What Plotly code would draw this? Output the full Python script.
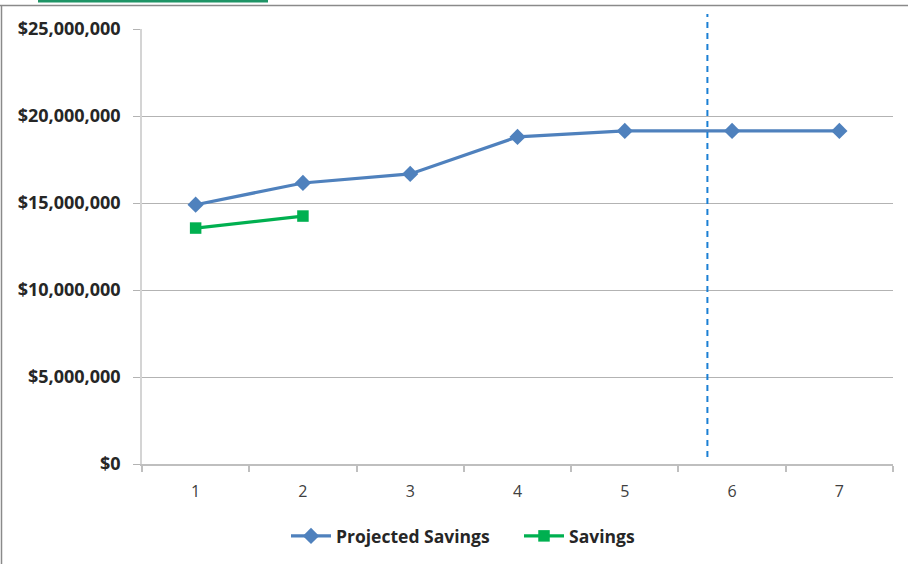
import plotly.graph_objects as go

# Period numbers on the category axis
periods = [1, 2, 3, 4, 5, 6, 7]
tick_labels = ["1", "2", "3", "4", "5", "6", "7"]

# Cumulative savings (USD)
projected_savings = [14_900_000, 16_150_000, 16_670_000, 18_800_000, 19_140_000, 19_140_000, 19_140_000]
savings = [13_560_000, 14_250_000]

# Position of the "current point" marker along the period axis
current_marker_x = 5.77

W, H = 908, 564
L, R, T, B = 142, 15, 29, 100
PW, PH = W - L - R, H - T - B


def px_x(p):
    return (p - L) / PW


def px_y(p):
    return (H - B - p) / PH


FONT = "Open Sans"
TEXT = "#404040"

fig = go.Figure()
fig.add_trace(go.Scatter(
    x=periods, y=projected_savings, name="Projected Savings",
    mode="lines+markers",
    line=dict(color="#4f81bd", width=3.2),
    marker=dict(symbol="diamond", size=12.5, color="#4f81bd"),
))
fig.add_trace(go.Scatter(
    x=periods[:len(savings)], y=savings, name="Savings",
    mode="lines+markers",
    line=dict(color="#00b050", width=3.2),
    marker=dict(symbol="square", size=11.5, color="#00b050"),
))

shapes = [
    # vertical dashed marker
    dict(type="line", xref="x", yref="paper",
         x0=current_marker_x, x1=current_marker_x, y0=px_y(457), y1=px_y(14),
         line=dict(color="#1a7fd4", width=2, dash="6px,5px")),
    # outer frame (top and left edges)
    dict(type="line", xref="paper", yref="paper",
         x0=px_x(0), x1=px_x(W), y0=px_y(5.5), y1=px_y(5.5),
         line=dict(color="#8a8a8a", width=1.5)),
    dict(type="line", xref="paper", yref="paper",
         x0=px_x(1.5), x1=px_x(1.5), y0=px_y(5), y1=px_y(H),
         line=dict(color="#8a8a8a", width=1.5)),
    # green tab at the top edge
    dict(type="rect", xref="paper", yref="paper",
         x0=px_x(38), x1=px_x(268), y0=px_y(0), y1=px_y(2.5),
         fillcolor="#1e9466", line=dict(width=0)),
]

fig.update_layout(
    width=W, height=H,
    margin=dict(l=L, r=R, t=T, b=B, autoexpand=False),
    paper_bgcolor="white", plot_bgcolor="white",
    font=dict(family=FONT, color=TEXT),
    showlegend=True,
    legend=dict(
        orientation="h", x=px_x(286), xanchor="left",
        y=px_y(536), yanchor="middle",
        font=dict(family=FONT, size=17.5, color="#262626", weight=700),
        itemwidth=40, tracegroupgap=0, entrywidth=178,
    ),
    shapes=shapes,
)

fig.update_xaxes(
    range=[0.5, 7.5], tickvals=periods, ticktext=tick_labels,
    showgrid=False, zeroline=False,
    showline=True, linecolor="#bfbfbf", linewidth=1.5,
    ticks="", tickfont=dict(family=FONT, size=16, color=TEXT),
    ticklabelstandoff=12,
    minor=dict(tickvals=[p + 0.5 for p in [0] + periods], ticks="outside",
               ticklen=6, tickcolor="#bfbfbf", tickwidth=1.5, showgrid=False),
)

fig.update_yaxes(
    range=[0, 25_000_000], dtick=5_000_000, tickformat="$,.0f",
    showgrid=True, gridcolor="#b3b3b3", gridwidth=1,
    zeroline=False,
    showline=True, linecolor="#d4d4d4", linewidth=1.5,
    ticks="outside", ticklen=7, tickcolor="#b3b3b3",
    ticklabelstandoff=9,
    tickfont=dict(family=FONT, size=18, color="#262626", weight=700),
)

fig.write_html("out.html")
